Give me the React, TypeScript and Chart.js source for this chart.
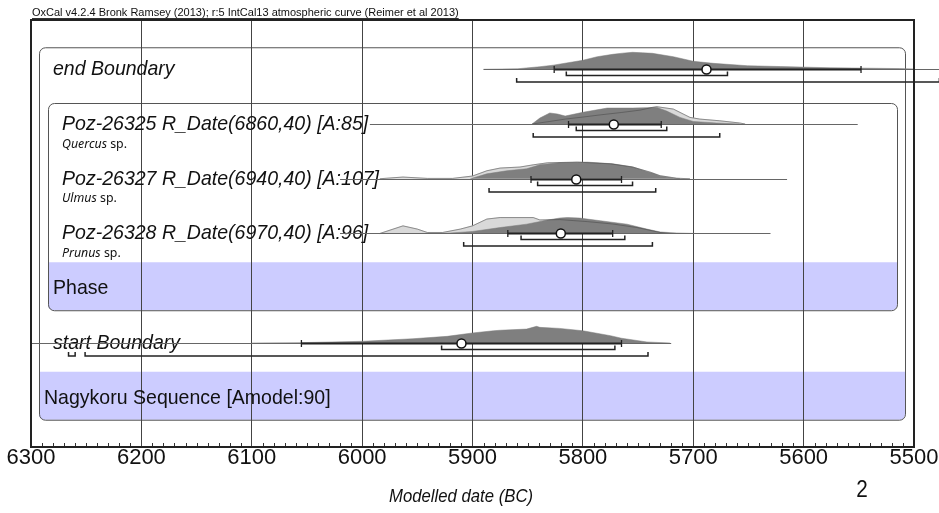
import React, { useEffect, useRef } from "react";
import { Chart, registerables } from "chart.js";

Chart.register(...registerables);

// ---------- Labels ----------
const titleText = "OxCal v4.2.4 Bronk Ramsey (2013); r:5 IntCal13 atmospheric curve (Reimer et al 2013)";
const xAxisTitle = "Modelled date (BC)";
const pageNumber = "2";
const rowLabels = [
  "end Boundary",
  "Poz-26325 R_Date(6860,40) [A:85]",
  "Poz-26327 R_Date(6940,40) [A:107]",
  "Poz-26328 R_Date(6970,40) [A:96]",
  "Phase",
  "start Boundary",
  "Nagykoru Sequence [Amodel:90]",
];
const rowItalic = [true, true, true, true, false, true, false];
const subGenus = ["", "Quercus", "Ulmus", "Prunus", "", "", ""];
const subSuffix = " sp.";

// ---------- Axis ----------
const xMin = 5500;
const xMax = 6300;
const xStep = 100;
const minorStep = 10;

// ---------- Distributions (year BC, relative probability 0-100) ----------
const endBoundaryYears = [5890, 5859, 5839, 5827, 5800, 5787, 5773, 5764, 5755, 5746, 5737, 5718, 5700, 5682, 5651, 5621, 5576, 5513, 5500];
const endBoundaryProb = [0, 3, 15, 24, 53, 74, 88, 95, 100, 97, 94, 74, 47, 35, 21, 16, 9, 4, 2];

const poz26325ModYears = [5846, 5839, 5830, 5823, 5816, 5800, 5778, 5755, 5733, 5724, 5712, 5700, 5679, 5658];
const poz26325ModProb = [0, 35, 65, 59, 47, 69, 94, 94, 98, 76, 39, 15, 6, 0];
const poz26325UnmYears = [5846, 5830, 5816, 5800, 5784, 5765, 5748, 5737, 5733, 5718, 5703, 5694, 5676, 5658, 5653];
const poz26325UnmProb = [0, 15, 29, 41, 54, 68, 82, 98, 102, 88, 39, 29, 19, 6, 0];

const poz26327ModYears = [5902, 5887, 5869, 5851, 5839, 5821, 5796, 5773, 5755, 5742, 5737, 5730, 5718, 5712];
const poz26327ModProb = [0, 29, 47, 59, 82, 94, 98, 88, 70, 41, 32, 15, 3, 0];
const poz26327UnmYears = [5984, 5963, 5941, 5918, 5900, 5887, 5875, 5857, 5845, 5832, 5805, 5775, 5755, 5739, 5730, 5715, 5703];
const poz26327UnmProb = [0, 10, 2, 2, 16, 47, 63, 69, 82, 94, 98, 88, 69, 39, 18, 3, 0];

const poz26328ModYears = [5927, 5900, 5875, 5851, 5832, 5821, 5814, 5803, 5784, 5760, 5742, 5730, 5715, 5697];
const poz26328ModProb = [0, 12, 35, 55, 79, 91, 94, 91, 75, 55, 26, 9, 3, 0];
const poz26328UnmYears = [5984, 5963, 5950, 5941, 5927, 5911, 5900, 5887, 5875, 5845, 5839, 5821, 5796, 5773, 5751, 5730, 5721];
const poz26328UnmProb = [0, 45, 26, 6, 6, 26, 45, 85, 94, 94, 80, 82, 70, 56, 35, 6, 0];

const startBoundaryYears = [6100, 6055, 5999, 5954, 5923, 5900, 5881, 5875, 5851, 5842, 5839, 5821, 5800, 5775, 5765, 5742, 5721];
const startBoundaryProb = [0, 2, 10, 25, 39, 59, 72, 75, 82, 98, 92, 86, 72, 43, 28, 6, 0];

// ---------- Summary statistics per distribution row ----------
const distRows = [0, 1, 2, 3, 5];
const lineFrom = [5890, 5993, 6020, 6020, 6300];
const lineTo = [5477, 5551, 5615, 5630, 5720];
const sigmaFrom = [5826, 5813, 5847, 5868, 6055];
const sigmaTo = [5548, 5729, 5765, 5773, 5765];
const meanYears = [5688, 5772, 5806, 5820, 5910];
const range68From = [5815, 5806, 5841, 5856, 5928];
const range68To = [5669, 5724, 5755, 5762, 5771];
const range95From = [5860, 5845, 5885, 5908, 6251];
const range95To = [5477, 5676, 5734, 5737, 5741];
const extra95Row = 5;
const extra95From = 6266;
const extra95To = 6260;

const DIST_H = 0.31; // height of a full-probability peak in row units

function toPoints(years: number[], probs: number[], row: number) {
  return years.map((yr, i) => ({ x: yr, y: row - (probs[i] / 100) * DIST_H }));
}

function drawText(ctx: CanvasRenderingContext2D, text: string, x: number, y: number, font: string, sx = 1, align: CanvasTextAlign = "left") {
  ctx.save();
  ctx.font = font;
  ctx.textBaseline = "middle";
  ctx.textAlign = align;
  ctx.fillStyle = "#111";
  ctx.translate(x, y);
  ctx.scale(sx, 1);
  ctx.fillText(text, 0, 0);
  ctx.restore();
}

const SANS = '"Liberation Sans", Arial, sans-serif';

const oxcalPlugin = {
  id: "oxcal",
  beforeDraw(chart: any) {
    const { ctx, chartArea: ca, scales } = chart;
    const y = scales.y;
    const rp = (r: number) => y.getPixelForValue(r);
    ctx.save();
    ctx.fillStyle = "#fff";
    ctx.fillRect(0, 0, chart.width, chart.height);

    // Sequence box
    const sL = ca.left + 8, sR = ca.right - 9, sT = rp(0) - 22, sB = rp(6) + 22;
    const sBand = rp(6) - 26;
    ctx.fillStyle = "#ccccff";
    ctx.beginPath();
    ctx.roundRect(sL, sBand, sR - sL, sB - sBand, [0, 0, 5, 5]);
    ctx.fill();
    ctx.strokeStyle = "#555";
    ctx.lineWidth = 1;
    ctx.beginPath();
    ctx.roundRect(sL + 0.5, sT + 0.5, sR - sL, sB - sT, 6);
    ctx.stroke();

    // Phase box
    const pL = ca.left + 17, pR = ca.right - 17, pT = rp(1) - 21, pB = rp(4) + 22;
    const pBand = rp(4) - 26;
    ctx.fillStyle = "#ccccff";
    ctx.beginPath();
    ctx.roundRect(pL, pBand, pR - pL, pB - pBand, [0, 0, 5, 5]);
    ctx.fill();
    ctx.beginPath();
    ctx.roundRect(pL + 0.5, pT + 0.5, pR - pL, pB - pT, 6);
    ctx.stroke();
    ctx.restore();
  },
  beforeDatasetsDraw(chart: any) {
    const { ctx, chartArea: ca, scales } = chart;
    const y = scales.y;
    const rp = (r: number) => y.getPixelForValue(r);
    const xOff = [22, 31, 31, 31, 22, 22, 13];
    rowLabels.forEach((lab, i) => {
      const font = (rowItalic[i] ? "italic " : "") + "21px " + SANS;
      drawText(ctx, lab, ca.left + xOff[i], rp(i), font, 0.93);
      if (subGenus[i]) {
        const sx = 0.95;
        const fi = 'italic 13px "Noto Sans", sans-serif';
        const fn = '13px "Noto Sans", sans-serif';
        ctx.save();
        ctx.font = fi;
        const w = ctx.measureText(subGenus[i]).width * sx;
        ctx.restore();
        drawText(ctx, subGenus[i], ca.left + xOff[i], rp(i) + 20, fi, sx);
        drawText(ctx, subSuffix, ca.left + xOff[i] + w, rp(i) + 20, fn, sx);
      }
    });
  },
  afterDatasetsDraw(chart: any) {
    const { ctx, chartArea: ca, scales } = chart;
    const x = scales.x, y = scales.y;
    const xp = (v: number) => x.getPixelForValue(v);
    const rp = (r: number) => y.getPixelForValue(r);
    ctx.save();
    distRows.forEach((row, i) => {
      const by = Math.round(rp(row)) + 0.5;
      // thin baseline
      ctx.strokeStyle = "#666";
      ctx.lineWidth = 1;
      ctx.beginPath();
      ctx.moveTo(xp(lineFrom[i]), by);
      ctx.lineTo(xp(lineTo[i]), by);
      ctx.stroke();
      // sigma line
      ctx.strokeStyle = "#222";
      ctx.lineWidth = 2;
      const s0 = xp(sigmaFrom[i]), s1 = xp(sigmaTo[i]);
      ctx.beginPath();
      ctx.moveTo(s0, by);
      ctx.lineTo(s1, by);
      ctx.stroke();
      ctx.lineWidth = 1.3;
      ctx.beginPath();
      ctx.moveTo(s0, by - 3.5); ctx.lineTo(s0, by + 3.5);
      ctx.moveTo(s1, by - 3.5); ctx.lineTo(s1, by + 3.5);
      ctx.stroke();
      // brackets
      const bracket = (a: number, b: number, yy: number) => {
        const pa = xp(a), pb = xp(b);
        ctx.strokeStyle = "#222";
        ctx.lineWidth = 1.5;
        ctx.beginPath();
        ctx.moveTo(pa, yy - 4);
        ctx.lineTo(pa, yy);
        ctx.lineTo(pb, yy);
        ctx.lineTo(pb, yy - 4);
        ctx.stroke();
      };
      bracket(range68From[i], range68To[i], by + 6);
      bracket(range95From[i], range95To[i], by + 12.5);
      if (row === extra95Row) bracket(extra95From, extra95To, by + 12.5);
      // mean circle
      ctx.beginPath();
      ctx.arc(xp(meanYears[i]), by, 4.5, 0, Math.PI * 2);
      ctx.fillStyle = "#fff";
      ctx.fill();
      ctx.strokeStyle = "#111";
      ctx.lineWidth = 1.5;
      ctx.stroke();
    });

    // minor ticks
    ctx.strokeStyle = "#333";
    ctx.lineWidth = 1;
    for (let v = xMin; v <= xMax; v += minorStep) {
      if (v % xStep === 0) continue;
      const px = Math.round(xp(v)) + 0.5;
      ctx.beginPath();
      ctx.moveTo(px, ca.bottom);
      ctx.lineTo(px, ca.bottom - 4);
      ctx.stroke();
    }

    // frame
    ctx.strokeStyle = "#222";
    ctx.lineWidth = 2;
    ctx.strokeRect(ca.left, ca.top, ca.right - ca.left, ca.bottom - ca.top);

    // title
    const tFont = "11px " + SANS;
    ctx.font = tFont;
    const tw = ctx.measureText(titleText).width;
    drawText(ctx, titleText, ca.left + 1, ca.top - 7, tFont, 1);
    ctx.strokeStyle = "#333";
    ctx.lineWidth = 1;
    ctx.beginPath();
    ctx.moveTo(ca.left + 1, ca.top - 1.5);
    ctx.lineTo(ca.left + 1 + tw, ca.top - 1.5);
    ctx.stroke();

    // axis title & page number
    drawText(ctx, xAxisTitle, ca.left + 430, ca.bottom + 50, "italic 19px " + SANS, 0.88, "center");
    drawText(ctx, pageNumber, 862, ca.bottom + 44, "23px " + SANS, 0.9, "center");
    ctx.restore();
  },
};

export default function App() {
  const canvasRef = useRef<HTMLCanvasElement | null>(null);

  useEffect(() => {
    if (!canvasRef.current) return;
    const unm = (years: number[], probs: number[], row: number) => ({
      type: "line" as const,
      data: toPoints(years, probs, row),
      fill: { value: row },
      backgroundColor: "#d9d9d9",
      borderColor: "#c2c2c2",
      borderWidth: 1,
      pointRadius: 0,
      tension: 0,
      order: 5,
    });
    const mod = (years: number[], probs: number[], row: number) => ({
      type: "line" as const,
      data: toPoints(years, probs, row),
      fill: { value: row },
      backgroundColor: "#7f7f7f",
      borderColor: "#7a7a7a",
      borderWidth: 0.5,
      pointRadius: 0,
      tension: 0,
      order: 4,
    });
    const outline = (years: number[], probs: number[], row: number) => ({
      type: "line" as const,
      data: toPoints(years, probs, row),
      fill: false,
      borderColor: "rgba(40,40,40,0.35)",
      borderWidth: 1,
      pointRadius: 0,
      tension: 0,
      order: 3,
    });

    const chart = new Chart(canvasRef.current, {
      type: "line",
      data: {
        datasets: [
          unm(poz26325UnmYears, poz26325UnmProb, 1),
          unm(poz26327UnmYears, poz26327UnmProb, 2),
          unm(poz26328UnmYears, poz26328UnmProb, 3),
          mod(endBoundaryYears, endBoundaryProb, 0),
          mod(poz26325ModYears, poz26325ModProb, 1),
          mod(poz26327ModYears, poz26327ModProb, 2),
          mod(poz26328ModYears, poz26328ModProb, 3),
          mod(startBoundaryYears, startBoundaryProb, 5),
          outline(poz26325UnmYears, poz26325UnmProb, 1),
          outline(poz26327UnmYears, poz26327UnmProb, 2),
          outline(poz26328UnmYears, poz26328UnmProb, 3),
        ] as any,
      },
      options: {
        responsive: false,
        animation: false,
        devicePixelRatio: 1,
        events: [],
        layout: { padding: { left: 31, right: 25, top: 20, bottom: 0 } },
        plugins: { legend: { display: false }, tooltip: { enabled: false } },
        scales: {
          x: {
            type: "linear",
            min: xMin,
            max: xMax,
            reverse: true,
            afterFit: (s: any) => {
              s.height = 66;
            },
            ticks: {
              stepSize: xStep,
              autoSkip: false,
              maxRotation: 0,
              padding: 0,
              color: "#111",
              font: { family: '"Liberation Sans", Arial', size: 22, lineHeight: 1 },
              callback: (v: any) => String(v),
            },
            grid: { color: "#444", lineWidth: 1, drawTicks: false },
            border: { display: true, color: "#111", width: 1.5 },
          },
          y: { type: "linear", min: -0.9, max: 6.9, reverse: true, display: false },
        },
      } as any,
      plugins: [oxcalPlugin],
    });
    return () => chart.destroy();
  }, []);

  return (
    <div style={{ position: "absolute", left: 0, top: 0, width: 939, height: 513 }}>
      <canvas ref={canvasRef} width={939} height={513} />
    </div>
  );
}
